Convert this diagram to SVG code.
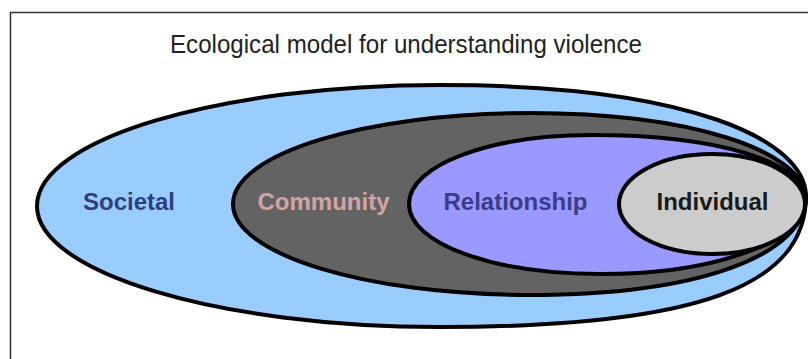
<svg xmlns="http://www.w3.org/2000/svg" width="808" height="359" viewBox="0 0 808 359">
<style>
.ring{stroke:#000;stroke-width:4;stroke-linejoin:round}
.lbl{font-family:"Liberation Sans",Arial,sans-serif;font-size:24px;font-weight:bold;text-anchor:middle}
.title{font-family:"Liberation Sans",Arial,sans-serif;font-size:25px;fill:#222;text-anchor:middle}
</style>
<rect x="0" y="0" width="808" height="359" fill="#fff"/>
<path d="M10.5,370 L10.5,12.5 L820,12.5" fill="none" stroke="#333" stroke-width="1.5"/>
<text class="title" x="406" y="53" textLength="472" lengthAdjust="spacingAndGlyphs">Ecological model for understanding violence</text>
<g id="societal">
<path class="ring" fill="#99ccff" d="M37,206 C37,139.7 217.4,85 440,85 C690,85 805,140 806,196 C806,285 700,327 440,327 C217.4,327 37,272.3 37,206 Z"/>
<text class="lbl" x="129" y="210" fill="#2e3f80">Societal</text>
</g>
<g id="community">
<path class="ring" fill="#636363" d="M233,204 C233,153.7 366,113 530,113 C690,113 800,150 806,196 C806,255 700,295 530,295 C366,295 233,254.3 233,204 Z"/>
<text class="lbl" x="323.5" y="210" fill="#d4a3a3">Community</text>
</g>
<g id="relationship">
<path class="ring" fill="#9999ff" d="M409,204 C409,165 490,135 592,135 C720,135 800,162 806,197 C806,240 720,274 600,274 C492,274 409,243 409,204 Z"/>
<text class="lbl" x="515.5" y="210" fill="#3b3b8a">Relationship</text>
</g>
<g id="individual">
<ellipse class="ring" fill="#cccccc" cx="712" cy="204" rx="93" ry="50"/>
<text class="lbl" x="712.5" y="210" fill="#1a1a1a">Individual</text>
</g>
<g id="connectors"></g>
</svg>
